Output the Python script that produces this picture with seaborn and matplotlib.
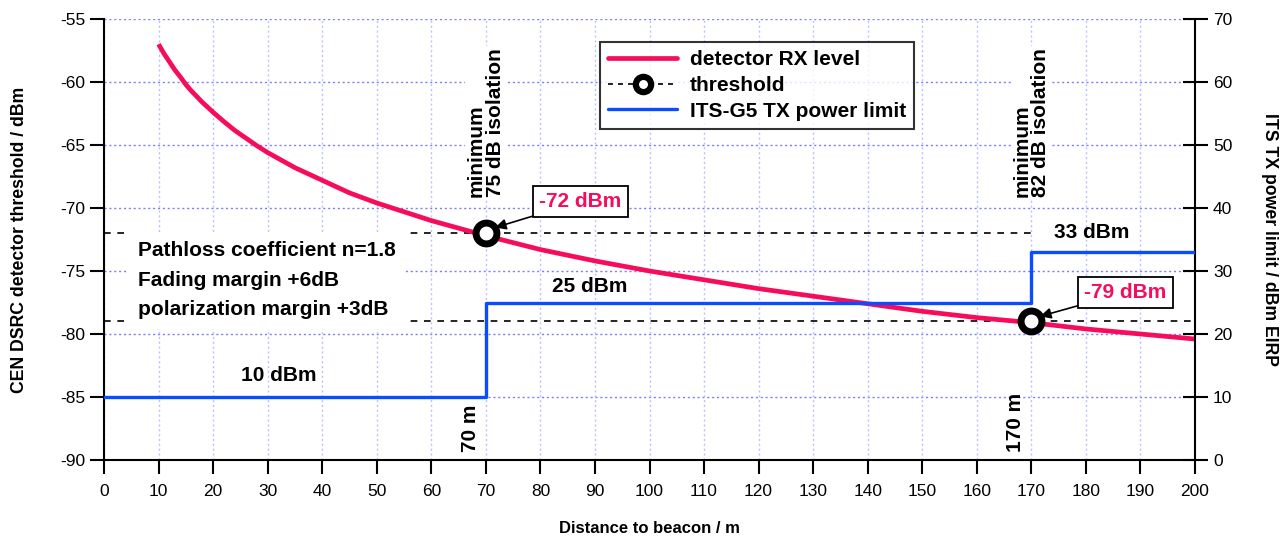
import numpy as np
import pandas as pd
import seaborn as sns
import matplotlib.pyplot as plt
from matplotlib.lines import Line2D

# ---- data ----
dist_m = [10, 11, 12, 13, 14, 15, 16, 17, 18, 19, 20, 22, 24, 26, 28, 30, 35, 40,
          45, 50, 55, 60, 65, 70, 80, 90, 100, 110, 120, 130, 140, 150, 160, 170,
          180, 190, 200]
rx_level_dbm = [-57.0, -57.75, -58.4, -59.05, -59.6, -60.2, -60.7, -61.15, -61.6,
                -62.0, -62.4, -63.15, -63.85, -64.45, -65.05, -65.6, -66.8, -67.8,
                -68.8, -69.6, -70.3, -71.0, -71.6, -72.2, -73.3, -74.2, -75.0,
                -75.7, -76.4, -77.0, -77.6, -78.2, -78.7, -79.1, -79.6, -80.0, -80.4]
threshold_x = [70, 170]
threshold_dbm = [-72, -79]
threshold_line_end = [170, 200]
tx_x = [0, 70, 170, 200]
tx_limit_dbm = [10, 25, 33, 33]
x_ticks = list(range(0, 201, 10))
left_ticks = list(range(-90, -54, 5))
right_ticks = list(range(0, 71, 10))

RED = '#f70c5c'
BLUE = '#0a4cff'

sns.set_style('ticks')
plt.rcParams['font.family'] = ['Liberation Sans', 'DejaVu Sans']
plt.rcParams['axes.unicode_minus'] = False
for k in ('text.color', 'axes.labelcolor', 'xtick.color', 'ytick.color',
          'xtick.labelcolor', 'ytick.labelcolor'):
    plt.rcParams[k] = 'black'

fig = plt.figure(figsize=(12.84, 5.37), dpi=100)
ax = fig.add_axes([104/1284, 1-460/537, (1195-104)/1284, (460-19)/537])
ax2 = ax.twinx()

ax.set_xlim(0, 200)
ax.set_ylim(-90, -55)
ax2.set_ylim(0, 70)

# grid
for y in left_ticks:
    ax.axhline(y, color='#7c7cff', lw=1.0, ls=(0, (1.5, 2)), zorder=0)
for x in x_ticks:
    ax.axvline(x, color='#b9c2ff', lw=1.0, ls=(0, (1.5, 2)), zorder=0)

# threshold dashed lines
for yv, xe in zip(threshold_dbm, threshold_line_end):
    ax.plot([0, xe], [yv, yv], color='black', lw=1.2, ls=(0, (4, 4)), zorder=1)

# RX level curve
df = pd.DataFrame({'d': dist_m, 'rx': rx_level_dbm})
sns.lineplot(data=df, x='d', y='rx', ax=ax, color=RED, lw=3.4, zorder=3,
             solid_joinstyle='round', solid_capstyle='butt')

# threshold markers
ax.plot(threshold_x, threshold_dbm, ls='none', marker='o', ms=15,
        mfc='white', mec='black', mew=5, zorder=6)

# TX power limit (right axis)
dft = pd.DataFrame({'d': tx_x, 'p': tx_limit_dbm})
sns.lineplot(data=dft, x='d', y='p', ax=ax2, color=BLUE, lw=2.4,
             drawstyle='steps-post', zorder=3)

ax.set_xticks(x_ticks)
ax.set_yticks(left_ticks)
ax2.set_yticks(right_ticks)
ax.set_xlabel('Distance to beacon / m', fontsize=12, fontweight='bold', labelpad=16)
ax.set_ylabel('CEN DSRC detector threshold / dBm', fontsize=12.7, fontweight='bold', labelpad=23)
ax2.set_ylabel('ITS TX power limit / dBm EIRP', fontsize=12.7, fontweight='bold',
               rotation=270, labelpad=33)
ax.tick_params(axis='both', labelsize=12.5, length=10, width=1.5, direction='out')
ax.tick_params(axis='x', pad=7)
ax2.tick_params(axis='y', labelsize=12.5, length=18, width=1.5, direction='inout', pad=4)

for a in (ax, ax2):
    a.spines['top'].set_visible(False)
    for s in ('left', 'right', 'bottom'):
        a.spines[s].set_linewidth(1.5)
        a.spines[s].set_color('black')
ax.spines['right'].set_visible(False)
ax2.spines['left'].set_visible(False)
ax2.spines['bottom'].set_visible(False)

bold = dict(fontsize=15, fontweight='bold')
white_box = dict(facecolor='white', edgecolor='none', pad=7)

ax.text(6.2, -75.75, 'Pathloss coefficient n=1.8\nFading margin +6dB\npolarization margin +3dB',
        ha='left', va='center', linespacing=1.7, bbox=white_box, zorder=4, **bold)
ax.text(70, -69.1, 'minimum\n75 dB isolation', rotation=90, ha='center', va='bottom',
        multialignment='left', linespacing=1.0,
        bbox=dict(facecolor='white', edgecolor='none', pad=1), zorder=4, **bold)
ax.text(170, -69.1, 'minimum\n82 dB isolation', rotation=90, ha='center', va='bottom',
        multialignment='left', linespacing=1.0,
        bbox=dict(facecolor='white', edgecolor='none', pad=1), zorder=4, **bold)
ax.text(68.9, -89.4, '70 m', rotation=90, ha='right', va='bottom', zorder=4, **bold)
ax.text(168.9, -89.4, '170 m', rotation=90, ha='right', va='bottom', zorder=4, **bold)

ax2.text(32, 13.4, '10 dBm', ha='center', va='center', **bold)
ax2.text(89, 27.6, '25 dBm', ha='center', va='center', **bold)
ax2.text(181, 36.1, '33 dBm', ha='center', va='center', **bold)

ann_box = dict(boxstyle='square,pad=0.3', facecolor='white', edgecolor='black', lw=1.3)
ax2.annotate('-72 dBm', xy=(71.7, 36.9), xycoords='data',
             xytext=(87.3, 41.0), textcoords='data', color=RED, ha='center', va='center',
             bbox=ann_box, zorder=7,
             arrowprops=dict(arrowstyle='-|>', color='black', lw=1.2, mutation_scale=16,
                             shrinkA=0, shrinkB=0), **bold)
ax2.annotate('-79 dBm', xy=(171.6, 22.8), xycoords='data',
             xytext=(187.2, 26.6), textcoords='data', color=RED, ha='center', va='center',
             bbox=ann_box, zorder=7,
             arrowprops=dict(arrowstyle='-|>', color='black', lw=1.2, mutation_scale=16,
                             shrinkA=0, shrinkB=0), **bold)

handles = [
    Line2D([], [], color=RED, lw=3.4),
    Line2D([], [], color='black', lw=1.2, ls=(0, (3, 3)), marker='o', ms=11,
           mfc='white', mec='black', mew=4.5),
    Line2D([], [], color=BLUE, lw=2.4),
]
leg = ax2.legend(handles, ['detector RX level', 'threshold', 'ITS-G5 TX power limit'],
                 loc='upper left', bbox_to_anchor=(600/1284, 1-42/537),
                 bbox_transform=fig.transFigure, frameon=True, fancybox=False,
                 handlelength=3.3, handletextpad=0.6, borderpad=0.4, labelspacing=0.32,
                 borderaxespad=0, prop=dict(size=15, weight='bold'))
leg.get_frame().set_edgecolor('black')
leg.get_frame().set_linewidth(1.5)
leg.set_zorder(10)

fig.savefig('out.png', dpi=100)
